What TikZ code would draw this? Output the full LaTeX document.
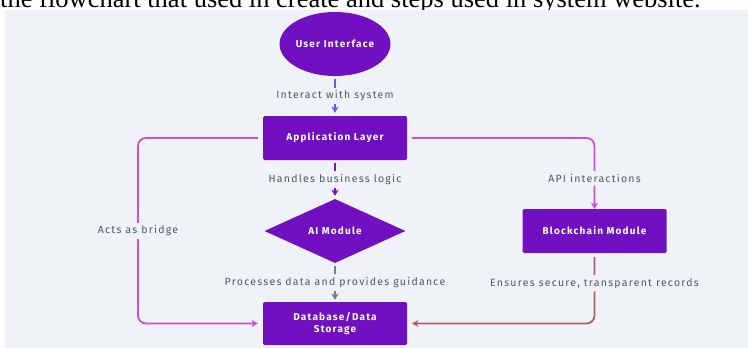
\documentclass[tikz,border=0pt]{standalone}
\usepackage{fontspec}
\setmainfont[LetterSpace=12]{Fira Sans}
\newfontfamily\capfont{Liberation Serif}
\usetikzlibrary{shapes.geometric,arrows.meta}
\definecolor{bg}{HTML}{EFF2F6}
\definecolor{nodefill}{HTML}{7110C0}
\definecolor{cblue}{HTML}{6A5AF5}
\definecolor{cpurple}{HTML}{7A14C4}
\definecolor{cgray}{HTML}{6E8090}
\definecolor{cmag}{HTML}{C850D8}
\definecolor{cred}{HTML}{B06262}
\definecolor{labelc}{HTML}{4E5966}
\tikzset{
  box/.style={draw=none, fill=nodefill, text=white, font=\bfseries\fontsize{10}{12.5}\selectfont, align=center, rounded corners=1.5pt, minimum width=144pt, minimum height=44pt, inner sep=2pt},
  oval/.style={ellipse, fill=nodefill, text=white, font=\bfseries\fontsize{10}{12}\selectfont, minimum width=106pt, minimum height=64pt, inner sep=0pt},
  dia/.style={diamond, fill=nodefill, text=white, font=\bfseries\fontsize{10}{12}\selectfont, minimum width=141pt, minimum height=64pt, inner sep=0pt},
  lbl/.style={fill=bg, text=labelc, font=\fontsize{10.5}{12.5}\selectfont, inner sep=3pt},
  conn/.style={line width=1.8pt, -{Stealth[length=6pt,width=7pt,inset=1.5pt]}},
}
\begin{document}
\begin{tikzpicture}[x=1pt,y=-1pt]
\useasboundingbox (0,0) rectangle (748,348);
\fill[white] (0,0) rectangle (748,348);
\fill[bg] (5,9.5) rectangle (748,348);
\begin{scope}
\clip (0,0) rectangle (748,9.5);
\node[anchor=base west, font=\capfont\fontsize{26.5}{28}\selectfont, inner sep=0pt] (cap) at (0,7.5) {the flowchart that used in create and steps used in system website.};
\end{scope}

\node[oval] (ui) at (335,44) {User Interface};
\node[box] (app) at (335,138) {Application Layer};
\node[dia] (ai) at (335,231) {AI Module};
\node[box] (bc) at (594.5,231) {Blockchain Module};
\node[box, minimum height=43pt] (db) at (335,323.5) {Database/Data\\Storage};
\coordinate (bl) at (138,323.5);

\draw[conn, cblue, shorten <=3pt, shorten >=3pt] (ui) -- (app) node[lbl, midway] {Interact with system};
\draw[conn, cpurple, shorten <=3pt, shorten >=3pt] (app) -- (ai) node[lbl, midway] {Handles business logic};
\draw[conn, cgray, shorten <=3pt, shorten >=2pt] (ai) -- (db) node[lbl, midway] {Processes data and provides guidance};
\draw[conn, cmag, rounded corners=8pt, shorten <=5pt] (app.east) -| (bc.north) node[lbl, pos=0.785] {API interactions};
\draw[conn, cmag, rounded corners=8pt, shorten <=5pt, shorten >=5pt] (app.west) -| (bl) -- (db.west);
\node[lbl] (actl) at (138,231) {Acts as bridge};
\draw[conn, cred, rounded corners=8pt, shorten <=4pt, shorten >=5pt] (bc.south) |- (db.east) node[lbl, pos=0.214] {Ensures secure, transparent records};
\end{tikzpicture}
\end{document}
